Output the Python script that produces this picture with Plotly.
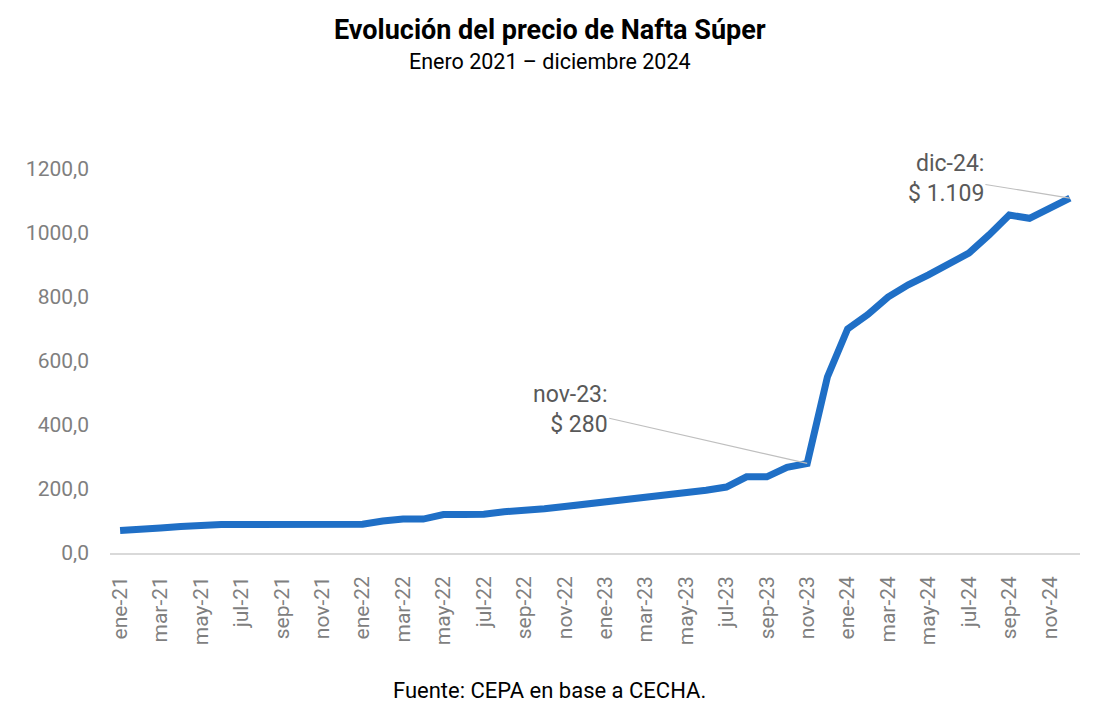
import plotly.graph_objects as go

years = ["21", "22", "23", "24"]
month_abbr = ["ene", "feb", "mar", "abr", "may", "jun", "jul", "ago", "sep", "oct", "nov", "dic"]
months = [f"{m}-{y}" for y in years for m in month_abbr]

precio = [
    70, 72, 78, 83, 88, 89, 89, 89, 89, 89, 89, 89,           # 2021
    90, 100, 106, 106, 120, 120, 121, 129, 131, 138, 145, 152,  # 2022
    159, 165, 171, 177, 185, 196, 206, 238, 238, 268, 280, 550,  # 2023
    700, 745, 800, 838, 869, 903, 937, 994, 1056, 1046, 1078, 1109,  # 2024
]

tick_months = months[::2]

blue = "#1f6fc6"
gray_text = "#7f7f7f"
ann_text = "#595959"
font_family = "Roboto, Arial, sans-serif"

fig = go.Figure()
fig.add_trace(go.Scatter(
    x=months, y=precio, mode="lines",
    line=dict(color=blue, width=7, shape="linear"),
    hoverinfo="x+y", showlegend=False,
))

# callouts
fig.add_annotation(
    x="nov-23", y=precio[months.index("nov-23")],
    text="nov-23:<br>$ 280", showarrow=True, arrowhead=0, arrowwidth=1.2,
    arrowcolor="#bfbfbf", ax=-237, ay=-54, align="right",
    font=dict(family=font_family, size=23, color=ann_text),
)
fig.add_annotation(
    x="dic-24", y=precio[months.index("dic-24")],
    text="dic-24:<br>$ 1.109", showarrow=True, arrowhead=0, arrowwidth=1.2,
    arrowcolor="#bfbfbf", ax=-124, ay=-20, align="right",
    font=dict(family=font_family, size=23, color=ann_text),
)

# titles and source
fig.add_annotation(
    xref="paper", yref="paper", x=0.4536, y=1.362, showarrow=False,
    text="<b>Evolución del precio de Nafta Súper</b>", xanchor="center", yanchor="middle",
    font=dict(family=font_family, size=27, color="#000000"),
)
fig.add_annotation(
    xref="paper", yref="paper", x=0.4536, y=1.279, showarrow=False,
    text="Enero 2021 – diciembre 2024", xanchor="center", yanchor="middle",
    font=dict(family=font_family, size=21.5, color="#000000"),
)
fig.add_annotation(
    xref="paper", yref="paper", x=0.4536, y=-0.357, showarrow=False,
    text="Fuente: CEPA en base a CECHA.", xanchor="center", yanchor="middle",
    font=dict(family=font_family, size=22, color="#000000"),
)

fig.update_layout(
    width=1115, height=720,
    margin=dict(l=102, r=43, t=161, b=175),
    paper_bgcolor="white", plot_bgcolor="white",
    separators=",.",
    font=dict(family=font_family, color=gray_text),
    xaxis=dict(
        type="category", tickmode="array", tickvals=tick_months, ticktext=tick_months,
        range=[-0.5, len(months) - 0.5],
        tickangle=-90, showgrid=False, showline=True, linecolor="#d9d9d9", linewidth=1.5,
        ticks="", tickfont=dict(size=21, color=gray_text), ticklabelstandoff=13,
        zeroline=False,
    ),
    yaxis=dict(
        range=[0, 1200], tickmode="linear", tick0=0, dtick=200, tickformat=".1f",
        showgrid=False, showline=False, zeroline=False, ticks="",
        tickfont=dict(size=21, color=gray_text), ticklabelstandoff=20,
    ),
)

fig.write_html("out.html")
